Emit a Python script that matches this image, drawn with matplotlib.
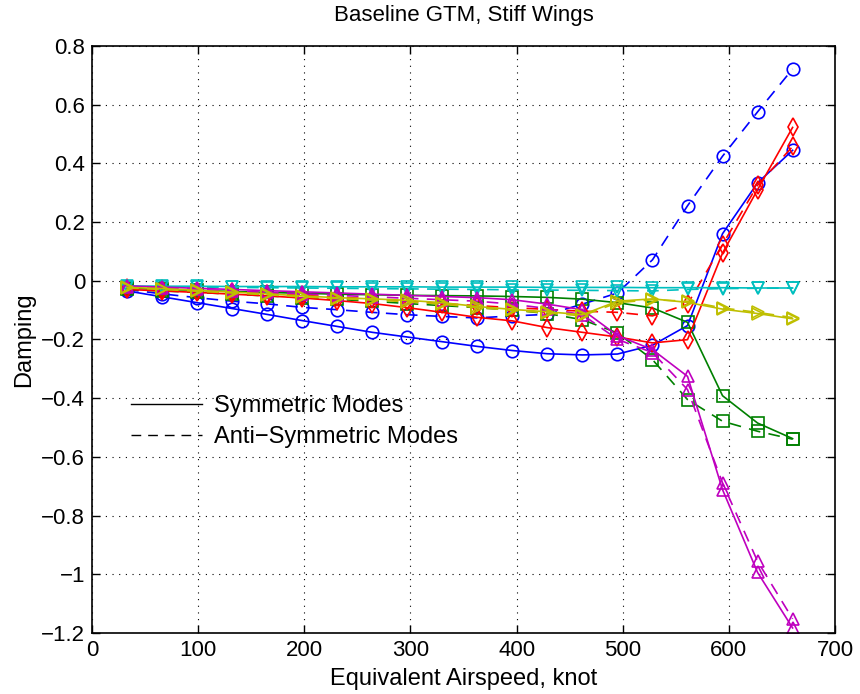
import matplotlib
matplotlib.use("Agg")
import matplotlib.pyplot as plt
from matplotlib.lines import Line2D
from matplotlib.ticker import FuncFormatter

plt.rcParams["font.family"] = ["Liberation Sans", "DejaVu Sans"]

# equivalent airspeed, knot
speed = [33, 66, 99, 132, 165, 198, 231, 264, 297, 330,
         363, 396, 429, 462, 495, 528, 561, 594, 627, 660]

# symmetric modes (solid)
sym_blue = [-0.035, -0.055, -0.075, -0.095, -0.115, -0.136, -0.156, -0.176, -0.192, -0.208,
            -0.224, -0.238, -0.249, -0.253, -0.250, -0.220, -0.153, 0.160, 0.333, 0.444]
sym_green = [-0.025, -0.030, -0.033, -0.037, -0.040, -0.043, -0.046, -0.048, -0.050, -0.051,
             -0.052, -0.054, -0.057, -0.063, -0.075, -0.093, -0.142, -0.392, -0.485, -0.538]
sym_red = [-0.030, -0.035, -0.040, -0.046, -0.052, -0.059, -0.068, -0.078, -0.092, -0.108,
           -0.125, -0.137, -0.160, -0.176, -0.192, -0.212, -0.201, 0.094, 0.310, 0.522]
sym_cyan = [-0.018, -0.019, -0.019, -0.020, -0.020, -0.020, -0.021, -0.021, -0.021, -0.022,
            -0.022, -0.022, -0.023, -0.023, -0.023, -0.024, -0.024, -0.024, -0.025, -0.025]
sym_magenta = [-0.018, -0.022, -0.026, -0.030, -0.034, -0.038, -0.042, -0.046, -0.050, -0.054,
               -0.058, -0.065, -0.080, -0.099, -0.187, -0.235, -0.326, -0.712, -0.994, -1.183]
sym_yellow = [-0.023, -0.027, -0.033, -0.039, -0.045, -0.052, -0.058, -0.062, -0.067, -0.075,
              -0.088, -0.098, -0.106, -0.116, -0.070, -0.062, -0.074, -0.097, -0.112, -0.130]

# anti-symmetric modes (dashed)
anti_blue = [-0.030, -0.045, -0.058, -0.070, -0.079, -0.091, -0.099, -0.108, -0.116, -0.122,
             -0.127, -0.120, -0.115, -0.080, -0.042, 0.071, 0.255, 0.424, 0.575, 0.721]
anti_green = [-0.030, -0.035, -0.040, -0.046, -0.052, -0.058, -0.064, -0.070, -0.078, -0.085,
              -0.092, -0.100, -0.112, -0.133, -0.178, -0.269, -0.405, -0.479, -0.513, -0.540]
anti_red = [-0.025, -0.030, -0.035, -0.040, -0.045, -0.050, -0.056, -0.062, -0.070, -0.078,
            -0.085, -0.092, -0.098, -0.104, -0.108, -0.120, -0.080, 0.123, 0.325, 0.457]
anti_cyan = [-0.020, -0.021, -0.022, -0.023, -0.024, -0.025, -0.026, -0.027, -0.028, -0.029,
             -0.030, -0.031, -0.032, -0.033, -0.034, -0.035, -0.030, -0.027, -0.026, -0.025]
anti_magenta = [-0.020, -0.025, -0.030, -0.035, -0.040, -0.045, -0.050, -0.055, -0.060, -0.065,
                -0.070, -0.080, -0.095, -0.116, -0.200, -0.245, -0.371, -0.689, -0.956, -1.152]
anti_yellow = [-0.025, -0.030, -0.036, -0.042, -0.048, -0.055, -0.061, -0.066, -0.072, -0.080,
               -0.092, -0.101, -0.110, -0.120, -0.075, -0.065, -0.070, -0.093, -0.108, -0.126]

# MATLAB-ish colours and markers
styles = [
    (sym_blue, anti_blue, (0, 0, 1), "o"),
    (sym_green, anti_green, (0, 0.5, 0), "s"),
    (sym_red, anti_red, (1, 0, 0), "d"),
    (sym_cyan, anti_cyan, (0, 0.75, 0.75), "v"),
    (sym_magenta, anti_magenta, (0.75, 0, 0.75), "^"),
    (sym_yellow, anti_yellow, (0.75, 0.75, 0), ">"),
]
dash = (0, (7, 5))

fig = plt.figure(figsize=(8.6, 6.94), dpi=100)
ax = fig.add_axes([0.107, 0.088, 0.864, 0.846])

for sym, anti, col, mk in styles:
    ax.plot(speed, sym, color=col, marker=mk, ms=9, mfc="none", mew=1.2, lw=1.2)
    ax.plot(speed, anti, color=col, marker=mk, ms=9, mfc="none", mew=1.2, lw=1.2,
            linestyle=dash)

ax.set_xlim(0, 700)
ax.set_ylim(-1.2, 0.8)
ax.set_xticks(range(0, 701, 100))
ax.set_yticks([-1.2, -1.0, -0.8, -0.6, -0.4, -0.2, 0, 0.2, 0.4, 0.6, 0.8])
ax.yaxis.set_major_formatter(FuncFormatter(lambda v, p: format(round(v, 1), "g").replace("-", "\u2212")))
ax.tick_params(direction="in", top=True, right=True, length=6, labelsize=16, width=1, pad=5)
ax.grid(True, color="k", linestyle=(0, (1, 5)), linewidth=0.8)
for s in ax.spines.values():
    s.set_linewidth(1.2)

ax.set_title("Baseline GTM, Stiff Wings", fontsize=16, pad=18)
ax.set_xlabel("Equivalent Airspeed, knot", fontsize=17, labelpad=5)
ax.set_ylabel("Damping", fontsize=17, labelpad=4)

handles = [Line2D([], [], color="k", lw=1.0),
           Line2D([], [], color="k", lw=1.0, linestyle=dash)]
ax.legend(handles, ["Symmetric Modes", "Anti\u2212Symmetric Modes"], frameon=False,
          loc="upper left", bbox_to_anchor=(0.037, 0.425), fontsize=17,
          handlelength=3.0, handletextpad=0.5, labelspacing=0.37, borderpad=0)

fig.savefig("out.png", dpi=100)
